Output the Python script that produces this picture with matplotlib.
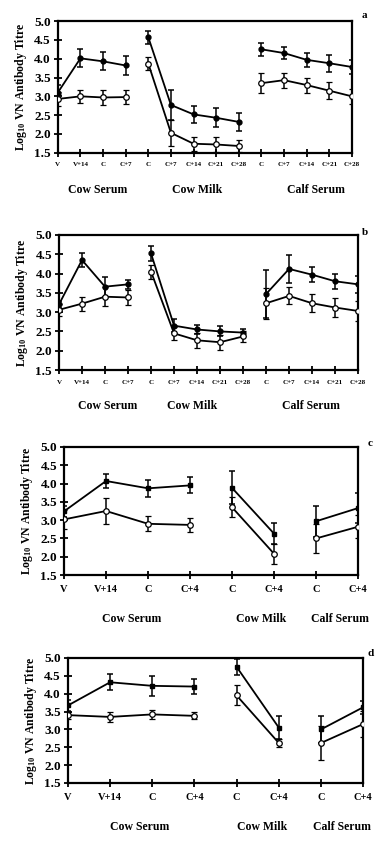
import matplotlib as mpl
import matplotlib.pyplot as plt

# Panel a / b: 14 sampling points (cow serum 4, cow milk 5, calf serum 5)
LABELS_AB = ["V", "V+14", "C", "C+7",
             "C", "C+7", "C+14", "C+21", "C+28",
             "C", "C+7", "C+14", "C+21", "C+28"]
GROUPS_AB = [4, 5, 5]

A_FILLED = [3.10, 4.01, 3.93, 3.82, 4.57, 2.77, 2.52, 2.43, 2.32, 4.25, 4.15, 3.97, 3.88, 3.78]
A_FILLED_ERR = [0.20, 0.24, 0.24, 0.25, 0.17, 0.40, 0.22, 0.25, 0.25, 0.17, 0.17, 0.18, 0.22, 0.18]
A_OPEN = [2.93, 3.00, 2.97, 2.98, 3.87, 2.03, 1.74, 1.72, 1.68, 3.35, 3.43, 3.30, 3.15, 3.00]
A_OPEN_ERR = [0.18, 0.17, 0.20, 0.18, 0.18, 0.35, 0.18, 0.20, 0.16, 0.27, 0.20, 0.20, 0.22, 0.20]

B_FILLED = [3.20, 4.35, 3.66, 3.72, 4.52, 2.65, 2.55, 2.50, 2.47, 3.47, 4.12, 3.97, 3.80, 3.72]
B_FILLED_ERR = [0.10, 0.17, 0.26, 0.12, 0.20, 0.17, 0.12, 0.13, 0.10, 0.63, 0.37, 0.20, 0.20, 0.22]
B_OPEN = [3.06, 3.22, 3.40, 3.38, 4.05, 2.45, 2.27, 2.22, 2.37, 3.23, 3.42, 3.23, 3.12, 3.03]
B_OPEN_ERR = [0.15, 0.18, 0.25, 0.20, 0.18, 0.17, 0.20, 0.20, 0.15, 0.40, 0.22, 0.23, 0.25, 0.25]

# Panel c / d: 8 sampling points (cow serum 4, cow milk 2, calf serum 2)
LABELS_CD = ["V", "V+14", "C", "C+4", "C", "C+4", "C", "C+4"]
GROUPS_CD = [4, 2, 2]

C_FILLED = [3.24, 4.07, 3.87, 3.95, 3.88, 2.63, 2.97, 3.33]
C_FILLED_ERR = [0.15, 0.18, 0.23, 0.22, 0.45, 0.28, 0.42, 0.40]
C_OPEN = [3.02, 3.25, 2.90, 2.87, 3.35, 2.08, 2.50, 2.82]
C_OPEN_ERR = [0.25, 0.35, 0.20, 0.20, 0.27, 0.27, 0.40, 0.32]

D_FILLED = [3.67, 4.32, 4.22, 4.20, 4.75, 3.05, 3.00, 3.62]
D_FILLED_ERR = [0.15, 0.22, 0.28, 0.22, 0.22, 0.32, 0.37, 0.18]
D_OPEN = [3.40, 3.35, 3.42, 3.38, 3.95, 2.62, 2.62, 3.15]
D_OPEN_ERR = [0.10, 0.13, 0.12, 0.10, 0.28, 0.10, 0.47, 0.37]

GROUP_NAMES = ["Cow Serum", "Cow Milk", "Calf Serum"]
YTICKS = [1.5, 2.0, 2.5, 3.0, 3.5, 4.0, 4.5, 5.0]

mpl.rcParams.update({
    "font.family": "Liberation Serif",
    "font.weight": "bold",
    "axes.linewidth": 1.6,
    "mathtext.fontset": "custom",
    "mathtext.rm": "Liberation Serif:bold",
    "mathtext.it": "Liberation Serif:bold",
    "mathtext.bf": "Liberation Serif:bold",
})

fig = plt.figure(figsize=(3.88, 8.44), dpi=100)

panels = [
    # letter, rect, labels, groups, filled, ferr, open, oerr, marker, xt size, group x, group y, letter pos
    ("a", [0.149, 0.819, 0.758, 0.156], LABELS_AB, GROUPS_AB, A_FILLED, A_FILLED_ERR,
     A_OPEN, A_OPEN_ERR, "o", 5, [1.75, 6.15, 11.4], -0.28, (0.94, 0.982)),
    ("b", [0.152, 0.5616, 0.771, 0.160], LABELS_AB, GROUPS_AB, B_FILLED, B_FILLED_ERR,
     B_OPEN, B_OPEN_ERR, "o", 5, [2.1, 5.8, 10.95], -0.27, (0.94, 0.725)),
    ("c", [0.165, 0.3187, 0.758, 0.1517], LABELS_CD, GROUPS_CD, C_FILLED, C_FILLED_ERR,
     C_OPEN, C_OPEN_ERR, "s", 7.5, [1.6, 4.7, 6.57], -0.34, (0.955, 0.475)),
    ("d", [0.175, 0.0723, 0.761, 0.1481], LABELS_CD, GROUPS_CD, D_FILLED, D_FILLED_ERR,
     D_OPEN, D_OPEN_ERR, "s", 7.5, [1.7, 4.6, 6.5], -0.35, (0.955, 0.226)),
]

for (letter, rect, labels, groups, filled, ferr, opn, oerr, mk, xt_size,
     gx, gy, lpos) in panels:
    ax = fig.add_axes(rect)
    n = len(labels)
    x = list(range(n))
    start = 0
    for g in groups:
        sl = slice(start, start + g)
        ax.errorbar(x[sl], filled[sl], yerr=ferr[sl], color="black", lw=1.3,
                    marker=mk, ms=3.5, mfc="black", mec="black",
                    capsize=2.5, elinewidth=1.1, capthick=1.1, zorder=3)
        ax.errorbar(x[sl], opn[sl], yerr=oerr[sl], color="black", lw=1.3,
                    marker="o", ms=4, mfc="white", mec="black", mew=0.9,
                    capsize=2.5, elinewidth=1.1, capthick=1.1, zorder=4)
        start += g
    ax.set_xlim(0, n - 1)
    ax.set_ylim(1.5, 5.0)
    ax.set_yticks(YTICKS)
    ax.set_yticklabels([f"{v:.1f}" for v in YTICKS], fontsize=9.5, fontweight="bold")
    ax.set_xticks(x)
    ax.set_xticklabels(labels, fontsize=xt_size, fontweight="bold")
    ax.tick_params(axis="both", direction="inout", length=6, width=1.3, pad=2)
    ax.tick_params(axis="x", pad=4)
    for s in ax.spines.values():
        s.set_clip_on(False)
    ax.set_ylabel("Log$_{10}$ VN Antibody Titre", fontsize=8.5,
                  fontweight="bold", labelpad=4)
    for name, xpos in zip(GROUP_NAMES, gx):
        ax.text(xpos, gy, name, transform=ax.get_xaxis_transform(), ha="center",
                va="center", fontsize=8.5, fontweight="bold")
    fig.text(lpos[0], lpos[1], letter, ha="center", va="center", fontsize=8,
             fontweight="bold")

fig.savefig("out.png", dpi=100)
